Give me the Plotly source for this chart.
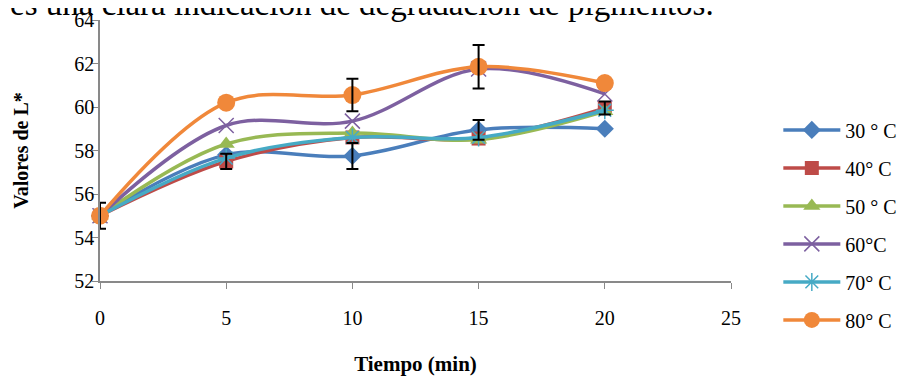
import plotly.graph_objects as go

tiempo = [0, 5, 10, 15, 20]
series_names = ["30 ° C", "40° C", "50 ° C", "60°C", "70° C", "80° C"]
l_30 = [55.0, 57.8, 57.75, 58.95, 59.0]
l_40 = [55.0, 57.5, 58.6, 58.55, 59.95]
l_50 = [55.0, 58.3, 58.8, 58.5, 59.8]
l_60 = [55.0, 59.15, 59.35, 61.75, 60.6]
l_70 = [55.0, 57.65, 58.6, 58.6, 59.85]
l_80 = [55.0, 60.2, 60.55, 61.85, 61.1]

# error bars visible in the picture: (series index, x, error)
err_series = [5, 1, 0, 5, 0, 5, 1]
err_x = [0, 5, 10, 10, 15, 15, 20]
err_val = [0.6, 0.35, 0.6, 0.75, 0.45, 1.0, 0.3]

colors = ["#4A7EBB", "#BE4B48", "#98B954", "#7D60A0", "#46AAC5", "#F0883A"]
symbols = ["diamond", "square", "triangle-up", "x-thin", "asterisk", "circle"]
sizes = [14, 14, 15, 15, 15, 18]
all_vals = [l_30, l_40, l_50, l_60, l_70, l_80]

fig = go.Figure()
for i, (name, vals) in enumerate(zip(series_names, all_vals)):
    thin = symbols[i] in ("x-thin", "asterisk")
    fig.add_trace(go.Scatter(
        x=tiempo, y=vals, name=name, mode="lines+markers",
        legendgroup=name,
        line=dict(color=colors[i], width=3.5, shape="spline", smoothing=1.0),
        marker=dict(symbol=symbols[i], size=sizes[i], color=colors[i],
                    line=dict(color=colors[i], width=1.5 if thin else 0)),
        cliponaxis=False,
    ))

ex, ey, ee = [], [], []
for s, x, e in zip(err_series, err_x, err_val):
    ex.append(x)
    ey.append(all_vals[s][tiempo.index(x)])
    ee.append(e)
fig.add_trace(go.Scatter(
    x=ex, y=ey, mode="markers", showlegend=False, hoverinfo="skip",
    marker=dict(size=1, opacity=0),
    error_y=dict(type="data", array=ee, visible=True, color="black",
                 thickness=2, width=6),
    cliponaxis=False,
))

font_family = "Liberation Serif, Times New Roman, serif"
fig.update_layout(
    width=899, height=368,
    margin=dict(l=92, r=176, t=12, b=95, autoexpand=False),
    paper_bgcolor="white", plot_bgcolor="white",
    font=dict(family=font_family, size=20, color="black"),
    showlegend=True,
    legend=dict(x=1.075, y=0.215, xanchor="left", yanchor="middle",
                font=dict(size=20, family=font_family),
                tracegroupgap=9, itemwidth=57,
                bgcolor="rgba(0,0,0,0)"),
    xaxis=dict(range=[0, 25], tickvals=[0, 5, 10, 15, 20, 25],
               showgrid=False, zeroline=False, showline=True,
               linecolor="#898989", linewidth=1.5, automargin=False,
               ticks="outside", ticklen=6, tickcolor="#898989",
               tickfont=dict(size=20), ticklabelstandoff=12,
               title=dict(text="<b>Tiempo (min)</b>", font=dict(size=21), standoff=43)),
    yaxis=dict(range=[52, 64], tickvals=[52, 54, 56, 58, 60, 62, 64],
               showgrid=False, zeroline=False, showline=True,
               linecolor="#898989", linewidth=1.5, automargin=False,
               ticks="outside", ticklen=6, tickcolor="#898989",
               tickfont=dict(size=20), ticklabelstandoff=-6,
               title=dict(text="<b>Valores de L*</b>", font=dict(size=20), standoff=40)),
)
fig.add_annotation(
    text="es una clara indicación de degradación de pigmentos.",
    xref="paper", yref="paper", x=-92/631, y=1 + 16/261,
    xanchor="left", yanchor="middle", showarrow=False,
    font=dict(size=33, family=font_family, color="black"),
)
fig.write_html("out.html")
